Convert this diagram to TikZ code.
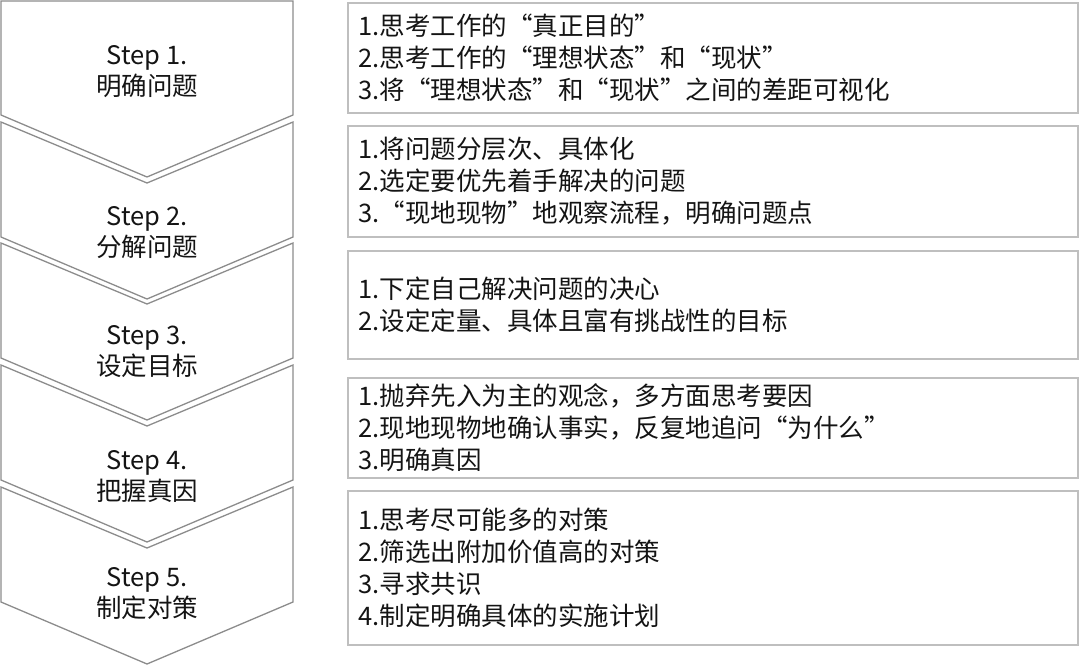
\documentclass[tikz,border=0pt]{standalone}
\usepackage{fontspec}
\setmainfont{Noto Sans CJK SC}

\begin{document}
\begin{tikzpicture}
  [x=1pt,y=-1pt,every node/.style={text=black!92},
   chev/.style={draw=black!45,line width=1.3pt,fill=white,line join=miter},
   steptext/.style={align=center,font=\fontsize{25.5}{31}\selectfont},
   taskbox/.style={draw=black!25,line width=1.5pt,fill=white,anchor=north west,
     text width=708pt,inner xsep=11pt,inner ysep=0pt,align=left,
     font=\fontsize{25.5}{31.8}\selectfont}]
  \useasboundingbox (0,0) rectangle (1080,665);

  % left column
  \draw[chev] (1,1) -- (293,1) -- (293,115) -- (147,177) -- (1,115) -- cycle;
\foreach \t in {122,243,365,487}
    \draw[chev] (1,\t) -- (147,\t+61) -- (293,\t) -- (293,\t+115) -- (147,\t+177) -- (1,\t+115) -- cycle;

  \node[steptext] (s1) at (147,72)  {Step 1.\\明确问题};
  \node[steptext] (s2) at (147,233) {Step 2.\\分解问题};
  \node[steptext] (s3) at (147,352) {Step 3.\\设定目标};
  \node[steptext] (s4) at (147,477) {Step 4.\\把握真因};
  \node[steptext] (s5) at (147,594) {Step 5.\\制定对策};

  % right column
  \node[taskbox,minimum height=110pt] (t1) at (347,2)
    {1.思考工作的“真正目的”\\2.思考工作的“理想状态”和“现状”\\3.将“理想状态”和“现状”之间的差距可视化};
  \node[taskbox,minimum height=111pt] (t2) at (347,125)
    {1.将问题分层次、具体化\\2.选定要优先着手解决的问题\\3.“现地现物”地观察流程，明确问题点};
  \node[taskbox,minimum height=108pt] (t3) at (347,250)
    {1.下定自己解决问题的决心\\2.设定定量、具体且富有挑战性的目标};
  \node[taskbox,minimum height=100pt] (t4) at (347,377)
    {1.抛弃先入为主的观念，多方面思考要因\\2.现地现物地确认事实，反复地追问“为什么”\\3.明确真因};
  \node[taskbox,minimum height=154pt] (t5) at (347,490)
    {1.思考尽可能多的对策\\2.筛选出附加价值高的对策\\3.寻求共识\\4.制定明确具体的实施计划};
\end{tikzpicture}
\end{document}
